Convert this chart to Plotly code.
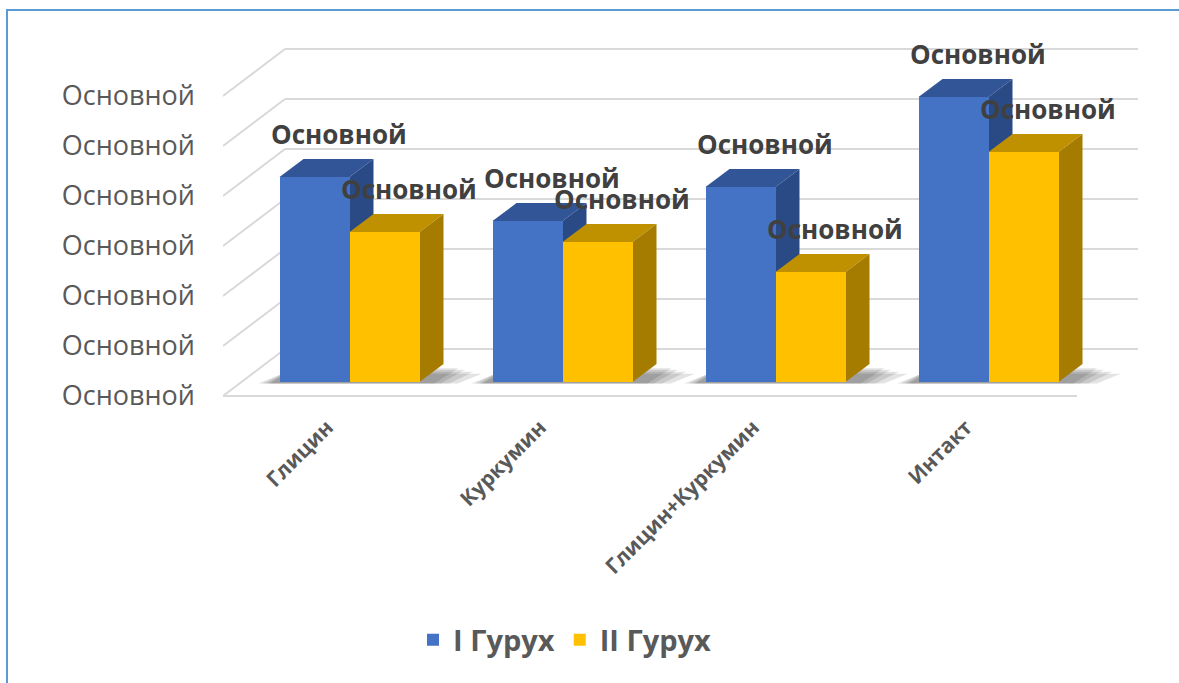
import plotly.graph_objects as go

# ---- data -------------------------------------------------------------
categories = ["Глицин", "Куркумин", "Глицин+Куркумин", "Интакт"]
group_1 = [4.1, 3.22, 3.9, 5.7]    # I Гурух
group_2 = [3.0, 2.8, 2.2, 4.6]     # II Гурух
series_names = ["I Гурух", "II Гурух"]
value_label = "Основной"           # number format shown on every label
axis_ticks = [0, 1, 2, 3, 4, 5, 6]
axis_tick_text = ["Основной"] * len(axis_ticks)

# ---- geometry of the pseudo-3D frame (pixels) ----------------------------
W, H = 1179, 683
L, R, T, B = 223, 1138, 40, 400          # plot area
X0PX, XSCALE = 349.5, 213.0              # centre of first category, px per category
Y0PX, YSCALE = 382.0, 50.0               # bar base, px per value unit


def xd(px):
    return (px - X0PX) / XSCALE


def yd(py):
    return (Y0PX - py) / YSCALE


BW = 70 / XSCALE                 # front width of one bar
BDX, BDY = 24 / XSCALE, 18 / YSCALE   # bar depth vector
FRONT_Y, BACK_Y = 396, 349       # floor edges
FRONT_X0, FRONT_X1 = 223, 1077
BACK_X0, BACK_X1 = 285, 1138
GRID_STEP = 50

BLUE = dict(front="#4472C4", top="#325597", side="#2A4A85")
GOLD = dict(front="#FFC000", top="#BF9000", side="#A67C00")
GRID = "#D9D9D9"
TXT = "#595959"
LBL = "#404040"
FONT = "Open Sans"

shapes = []


def line(x0, y0, x1, y1):
    shapes.append(dict(type="line", xref="x", yref="y", x0=x0, y0=y0, x1=x1, y1=y1,
                       line=dict(color=GRID, width=2), layer="below"))


def poly(pts, color, opacity=1.0):
    path = "M " + " L ".join(f"{a},{b}" for a, b in pts) + " Z"
    shapes.append(dict(type="path", xref="x", yref="y", path=path, fillcolor=color,
                       line=dict(width=0), opacity=opacity, layer="below"))


# back wall and left wall gridlines, floor edges
for k in axis_ticks:
    line(xd(BACK_X0), yd(BACK_Y - GRID_STEP * k), xd(BACK_X1), yd(BACK_Y - GRID_STEP * k))
    line(xd(FRONT_X0), yd(FRONT_Y - GRID_STEP * k), xd(BACK_X0), yd(BACK_Y - GRID_STEP * k))
line(xd(FRONT_X0), yd(FRONT_Y), xd(FRONT_X1), yd(FRONT_Y))

# soft floor shadows cast by each pair of bars (stacked translucent layers)
for i in range(len(categories)):
    for e in [0.14, 0.10, 0.06, 0.03]:
        x0 = i - BW - 0.03 - e * 0.5
        x1 = i + BW + 0.04 + e
        y0 = -0.03
        y1 = BDY * 0.85 - e
        poly([(x0, y0), (x1, y0), (x1 + BDX, y1), (x0 + BDX, y1)], "#000000", 0.11)

# top and side faces of each bar
for i in range(len(categories)):
    for v, left, col in [(group_1[i], i - BW, BLUE), (group_2[i], i, GOLD)]:
        right = left + BW
        poly([(left, v), (right, v), (right + BDX, v + BDY), (left + BDX, v + BDY)], col["top"])
        poly([(right, 0), (right, v), (right + BDX, v + BDY), (right + BDX, BDY)], col["side"])

fig = go.Figure()
xs = list(range(len(categories)))
fig.add_bar(x=xs, y=group_1, name=series_names[0], width=BW, offset=-BW,
            marker=dict(color=BLUE["front"], line=dict(width=0)))
fig.add_bar(x=xs, y=group_2, name=series_names[1], width=BW, offset=0,
            marker=dict(color=GOLD["front"], line=dict(width=0)))

# value labels above each bar
annotations = []
for i in range(len(categories)):
    for v, c in [(group_1[i], i - BW / 2), (group_2[i], i + BW / 2)]:
        annotations.append(dict(x=c + 0.113, y=v + 0.86, xref="x", yref="y",
                                text=f"<b>{value_label}</b>", showarrow=False,
                                font=dict(family=FONT, size=26, color=LBL)))


def paper_x(px):
    return (px - L) / (R - L)


def paper_y(py):
    return (B - py) / (B - T)


# outer chart border
shapes.append(dict(type="rect", xref="paper", yref="paper",
                   x0=paper_x(7), x1=paper_x(1200), y0=paper_y(700), y1=paper_y(10),
                   line=dict(color="#5B9BD5", width=2), layer="above"))

fig.update_layout(
    width=W, height=H,
    margin=dict(l=L, r=W - R, t=T, b=H - B),
    paper_bgcolor="white", plot_bgcolor="rgba(0,0,0,0)",
    shapes=shapes, annotations=annotations,
    bargap=0, showlegend=True,
    legend=dict(orientation="h", x=paper_x(565), xanchor="center",
                y=paper_y(640), yanchor="middle",
                font=dict(family=FONT, size=29, color=TXT, weight="bold"),
                itemwidth=30),
    xaxis=dict(range=[xd(L), xd(R)], tickvals=[i - 0.105 for i in xs],
               ticktext=categories, tickangle=-45, showgrid=False, zeroline=False,
               showline=False, ticks="", ticklabelstandoff=10,
               tickfont=dict(family=FONT, size=21, color=TXT, weight="bold")),
    yaxis=dict(range=[yd(B), yd(T)], tickvals=[yd(FRONT_Y - GRID_STEP * k) for k in axis_ticks],
               ticktext=axis_tick_text, showgrid=False, zeroline=False, showline=False,
               ticks="", ticklabelstandoff=27,
               tickfont=dict(family=FONT, size=27, color=TXT)),
)

fig.write_html("out.html")
